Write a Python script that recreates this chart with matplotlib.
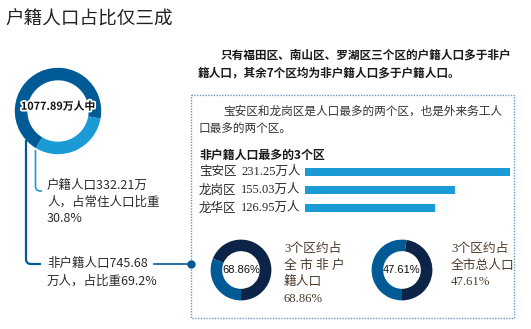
import numpy as np
import matplotlib
matplotlib.use("Agg")
import matplotlib.pyplot as plt
from matplotlib.path import Path
from matplotlib.patches import PathPatch, Rectangle
import matplotlib.patheffects as pe

plt.rcParams['font.family'] = ['Noto Sans CJK SC', 'DejaVu Sans']

# 数据
total_pop = "1077.89万人中"
hukou_share = [30.8, 69.2]           # 户籍 / 非户籍
districts = ["宝安区", "龙岗区", "龙华区"]
non_hukou = [231.25, 155.03, 126.95]
non_hukou_labels = ["231.25万人", "155.03万人", "126.95万人"]
share_non_hukou = [68.86, 31.14]     # 3个区占全市非户籍人口
share_total = [47.61, 52.39]         # 3个区占全市总人口

# 颜色
DARK = '#005a96'
LIGHT = '#1b9bd5'
NAVY = '#0b2447'
TXT = '#2b2b2b'
BROWN = '#4d3a28'
SERIF = ['Liberation Serif', 'Noto Sans CJK SC']

W, H = 531, 329
fig = plt.figure(figsize=(W / 100, H / 100), dpi=100)
fig.patch.set_facecolor('white')

# 像素坐标的底层画布
bg = fig.add_axes([0, 0, 1, 1])
bg.set_xlim(0, W)
bg.set_ylim(H, 0)
bg.axis('off')


def px_axes(x0, y0, x1, y1):
    return fig.add_axes([x0 / W, 1 - y1 / H, (x1 - x0) / W, (y1 - y0) / H])


# 标题
bg.text(5, 20, "户籍人口占比仅三成", fontsize=13.4, color='#222222', va='center', ha='left',
        fontweight='medium')

# 左侧引线
def corner_line(x, y0, y1, x1, color, lw):
    r = 5
    verts = [(x, y0), (x, y1 - r), (x, y1), (x + r, y1), (x1, y1)]
    codes = [Path.MOVETO, Path.LINETO, Path.CURVE3, Path.CURVE3, Path.LINETO]
    bg.add_patch(PathPatch(Path(verts, codes), fill=False, edgecolor=color, lw=lw))

corner_line(26, 140, 264, 41, DARK, 1.6)
corner_line(35.5, 150, 191, 42, LIGHT, 1.2)

# 左侧说明文字
bg.text(47, 185, "户籍人口332.21万", fontsize=9, color=TXT, va='center')
bg.text(47, 202, "人，占常住人口比重", fontsize=9, color=TXT, va='center')
bg.text(47, 219, "30.8%", fontsize=9, color=TXT, va='center')
bg.text(47, 264, "非户籍人口745.68", fontsize=9, color=TXT, va='center')
bg.text(47, 281, "万人，占比重69.2%", fontsize=9, color=TXT, va='center')
bg.plot([154, 191], [264, 264], color=DARK, lw=1.2)

# 右上说明
bg.text(220, 55, "只有福田区、南山区、罗湖区三个区的户籍人口多于非户", fontsize=8.4,
        color='#1a1a1a', va='center', fontweight='bold')
bg.text(198, 73, "籍人口，其余7个区均为非户籍人口多于户籍人口。", fontsize=8.4,
        color='#1a1a1a', va='center', fontweight='bold')

# 虚线框
bg.add_patch(Rectangle((191, 95), 323, 223, fill=False, edgecolor='#6a98c4',
                       lw=1, linestyle=(0, (1, 1))))
bg.plot([191], [264], 'o', color=DARK, ms=5, zorder=5)

bg.text(223, 111, "宝安区和龙岗区是人口最多的两个区，也是外来务工人", fontsize=8.4,
        color='#333333', va='center', fontweight='light')
bg.text(199, 128, "口最多的两个区。", fontsize=8.4, color='#333333', va='center',
        fontweight='light')
bg.text(199, 155, "非户籍人口最多的3个区", fontsize=8.6, color='#1a1a1a', va='center',
        fontweight='bold')

# 条形图
bar_y = [172, 190, 208]
for d, lab, y in zip(districts, non_hukou_labels, bar_y):
    bg.text(199, y, d, fontsize=9, color=TXT, va='center')
    bg.text(241, y, lab, fontsize=9, color=TXT, va='center', family=SERIF)

bax = px_axes(305, 163, 510, 217)
lo = -52.6
vals = np.array(non_hukou)
bax.barh(range(len(vals)), vals - lo, left=lo, height=0.45, color=LIGHT)
bax.set_xlim(lo, max(non_hukou))
bax.set_ylim(2.5, -0.5)
bax.axis('off')

# 左侧大环形图
ax1 = px_axes(4, 57, 112, 165)
ax1.pie(hukou_share, colors=[LIGHT, DARK], startangle=-10, counterclock=False,
        wedgeprops=dict(width=0.29, edgecolor='none'))
ax1.set_aspect('equal')
ax1.text(0, 0.1, total_pop, ha='center', va='center', fontsize=7.8, fontweight='bold',
         color='#111111', path_effects=[pe.withStroke(linewidth=2.5, foreground='white')])

# 小环形图
def small_donut(cx, cy, vals, label):
    r = 38
    ax = px_axes(cx - r, cy - r, cx + r, cy + r)
    ax.pie(vals, colors=[NAVY, DARK], startangle=270, counterclock=True,
           wedgeprops=dict(width=0.38, edgecolor='none'))
    ax.set_aspect('equal')
    ax.text(0, 0, label, ha='center', va='center', fontsize=8, color='#111111',
            family=['Liberation Sans', 'DejaVu Sans'])

small_donut(241, 270, share_non_hukou, "68.86%")
small_donut(402, 270, share_total, "47.61%")

for i, s in enumerate(["3个区约占", "全 市 非 户", "籍人口", "68.86%"]):
    bg.text(284, 249 + i * 16.5, s, fontsize=9.2, color=BROWN, va='center', family=SERIF)
for i, s in enumerate(["3个区约占", "全市总人口", "47.61%"]):
    bg.text(451, 249 + i * 16.5, s, fontsize=9.2, color=BROWN, va='center', family=SERIF)

fig.savefig("out.png", dpi=100, facecolor='white')
